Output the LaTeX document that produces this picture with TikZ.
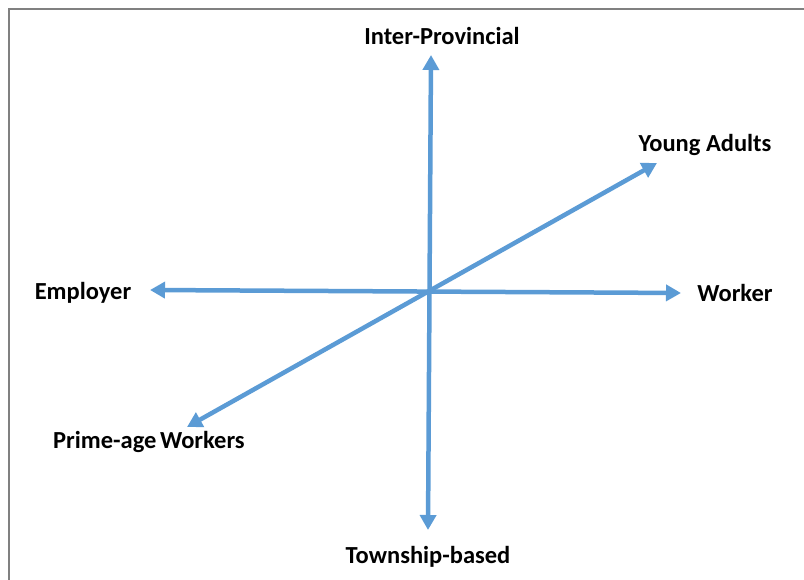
\documentclass[tikz,border=0pt]{standalone}
\usepackage{fontspec}
\setmainfont{Carlito}
\usetikzlibrary{arrows.meta}
\definecolor{axisblue}{RGB}{91,155,213}
\definecolor{framegray}{RGB}{128,128,128}
\tikzset{
  axis/.style={draw=axisblue, line width=4.5pt, {Triangle[length=15pt,width=16pt]}-{Triangle[length=15pt,width=16pt]}},
  lbl/.style={font=\fontsize{24.5}{28}\selectfont\bfseries, inner sep=0pt},
  frame/.style={draw=framegray, line width=2pt}
}
\begin{document}
\begin{tikzpicture}[x=1pt,y=1pt]
\useasboundingbox (0,0) rectangle (804,580);
\coordinate (fa) at (9,0);
\coordinate (fb) at (9,571);
\coordinate (fc) at (804,571);
\draw[frame] (fa) -- (fb) -- (fc);
\coordinate (top) at (431,525);
\coordinate (bot) at (428,50);
\coordinate (lft) at (150,290);
\coordinate (rgt) at (681,287);
\coordinate (ur) at (657,417);
\coordinate (ll) at (187,153);
\draw[axis] (bot) -- (top);
\draw[axis] (lft) -- (rgt);
\draw[axis] (ll) -- (ur);
\node[lbl] (n1) at (442,544) {Inter-Provincial};
\node[lbl] (n2) at (705,435) {Young Adults};
\node[lbl] (n3) at (83,287) {Employer};
\node[lbl] (n4) at (735,287) {Worker};
\node[lbl] (n5) at (149,138) {Prime-age\hspace{-2pt} Workers};
\node[lbl] (n6) at (428,23) {Township-based};
\end{tikzpicture}
\end{document}
